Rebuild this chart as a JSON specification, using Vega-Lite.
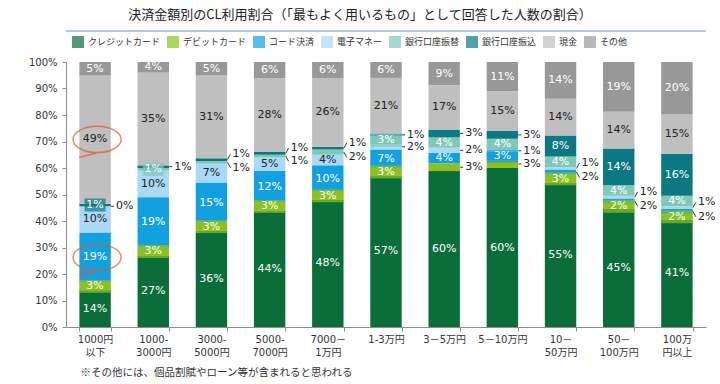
{
  "$schema": "https://vega.github.io/schema/vega-lite/v6.json",
  "width": 640,
  "height": 265,
  "autosize": {"type": "none"},
  "padding": {"left": 66, "top": 62, "right": 14, "bottom": 57},
  "background": "white",
  "title": {
    "text": "決済金額別のCL利用割合（「最もよく用いるもの」として回答した人数の割合）",
    "font": "Noto Sans CJK JP",
    "fontSize": 13,
    "fontWeight": "normal",
    "color": "#222222",
    "anchor": "middle",
    "dx": -26,
    "offset": 8
  },
  "config": {
    "view": {"stroke": null},
    "font": "DejaVu Sans, Noto Sans CJK JP",
    "axisY": {
      "tickCount": 10,
      "labelOverlap": false,
      "grid": false,
      "format": ".0%",
      "domainColor": "#8c8c8c",
      "tickColor": "#8c8c8c",
      "tickSize": 4,
      "labelFontSize": 10,
      "labelColor": "#333333",
      "labelPadding": 5
    }
  },
  "data": {
    "values": [
      {"cat": "1000円 以下", "method": "クレジットカード", "value": 14, "callout": false},
      {"cat": "1000円 以下", "method": "デビットカード", "value": 3, "callout": false},
      {"cat": "1000円 以下", "method": "コード決済", "value": 19, "callout": false},
      {"cat": "1000円 以下", "method": "電子マネー", "value": 10, "callout": false},
      {"cat": "1000円 以下", "method": "銀行口座振替", "value": 0, "callout": true},
      {"cat": "1000円 以下", "method": "銀行口座振込", "value": 1, "callout": false},
      {"cat": "1000円 以下", "method": "現金", "value": 49, "callout": false},
      {"cat": "1000円 以下", "method": "その他", "value": 5, "callout": false},

      {"cat": "1000- 3000円", "method": "クレジットカード", "value": 27, "callout": false},
      {"cat": "1000- 3000円", "method": "デビットカード", "value": 3, "callout": false},
      {"cat": "1000- 3000円", "method": "コード決済", "value": 19, "callout": false},
      {"cat": "1000- 3000円", "method": "電子マネー", "value": 10, "callout": false},
      {"cat": "1000- 3000円", "method": "銀行口座振替", "value": 1, "callout": false},
      {"cat": "1000- 3000円", "method": "銀行口座振込", "value": 1, "callout": true},
      {"cat": "1000- 3000円", "method": "現金", "value": 35, "callout": false},
      {"cat": "1000- 3000円", "method": "その他", "value": 4, "callout": false},

      {"cat": "3000- 5000円", "method": "クレジットカード", "value": 36, "callout": false},
      {"cat": "3000- 5000円", "method": "デビットカード", "value": 3, "callout": false},
      {"cat": "3000- 5000円", "method": "コード決済", "value": 15, "callout": false},
      {"cat": "3000- 5000円", "method": "電子マネー", "value": 7, "callout": false},
      {"cat": "3000- 5000円", "method": "銀行口座振替", "value": 1, "callout": true},
      {"cat": "3000- 5000円", "method": "銀行口座振込", "value": 1, "callout": true},
      {"cat": "3000- 5000円", "method": "現金", "value": 31, "callout": false},
      {"cat": "3000- 5000円", "method": "その他", "value": 5, "callout": false},

      {"cat": "5000- 7000円", "method": "クレジットカード", "value": 44, "callout": false},
      {"cat": "5000- 7000円", "method": "デビットカード", "value": 3, "callout": false},
      {"cat": "5000- 7000円", "method": "コード決済", "value": 12, "callout": false},
      {"cat": "5000- 7000円", "method": "電子マネー", "value": 5, "callout": false},
      {"cat": "5000- 7000円", "method": "銀行口座振替", "value": 1, "callout": true},
      {"cat": "5000- 7000円", "method": "銀行口座振込", "value": 1, "callout": true},
      {"cat": "5000- 7000円", "method": "現金", "value": 28, "callout": false},
      {"cat": "5000- 7000円", "method": "その他", "value": 6, "callout": false},

      {"cat": "7000－ 1万円", "method": "クレジットカード", "value": 48, "callout": false},
      {"cat": "7000－ 1万円", "method": "デビットカード", "value": 3, "callout": false},
      {"cat": "7000－ 1万円", "method": "コード決済", "value": 10, "callout": false},
      {"cat": "7000－ 1万円", "method": "電子マネー", "value": 4, "callout": false},
      {"cat": "7000－ 1万円", "method": "銀行口座振替", "value": 2, "callout": true},
      {"cat": "7000－ 1万円", "method": "銀行口座振込", "value": 1, "callout": true},
      {"cat": "7000－ 1万円", "method": "現金", "value": 26, "callout": false},
      {"cat": "7000－ 1万円", "method": "その他", "value": 6, "callout": false},

      {"cat": "1-3万円", "method": "クレジットカード", "value": 57, "callout": false},
      {"cat": "1-3万円", "method": "デビットカード", "value": 3, "callout": false},
      {"cat": "1-3万円", "method": "コード決済", "value": 7, "callout": false},
      {"cat": "1-3万円", "method": "電子マネー", "value": 2, "callout": true},
      {"cat": "1-3万円", "method": "銀行口座振替", "value": 3, "callout": false},
      {"cat": "1-3万円", "method": "銀行口座振込", "value": 1, "callout": true},
      {"cat": "1-3万円", "method": "現金", "value": 21, "callout": false},
      {"cat": "1-3万円", "method": "その他", "value": 6, "callout": false},

      {"cat": "3－5万円", "method": "クレジットカード", "value": 60, "callout": false},
      {"cat": "3－5万円", "method": "デビットカード", "value": 3, "callout": true},
      {"cat": "3－5万円", "method": "コード決済", "value": 4, "callout": false},
      {"cat": "3－5万円", "method": "電子マネー", "value": 2, "callout": true},
      {"cat": "3－5万円", "method": "銀行口座振替", "value": 4, "callout": false},
      {"cat": "3－5万円", "method": "銀行口座振込", "value": 3, "callout": true},
      {"cat": "3－5万円", "method": "現金", "value": 17, "callout": false},
      {"cat": "3－5万円", "method": "その他", "value": 9, "callout": false},

      {"cat": "5－10万円", "method": "クレジットカード", "value": 60, "callout": false},
      {"cat": "5－10万円", "method": "デビットカード", "value": 3, "callout": true},
      {"cat": "5－10万円", "method": "コード決済", "value": 3, "callout": false},
      {"cat": "5－10万円", "method": "電子マネー", "value": 1, "callout": true},
      {"cat": "5－10万円", "method": "銀行口座振替", "value": 4, "callout": false},
      {"cat": "5－10万円", "method": "銀行口座振込", "value": 3, "callout": true},
      {"cat": "5－10万円", "method": "現金", "value": 15, "callout": false},
      {"cat": "5－10万円", "method": "その他", "value": 11, "callout": false},

      {"cat": "10－ 50万円", "method": "クレジットカード", "value": 55, "callout": false},
      {"cat": "10－ 50万円", "method": "デビットカード", "value": 3, "callout": false},
      {"cat": "10－ 50万円", "method": "コード決済", "value": 2, "callout": true},
      {"cat": "10－ 50万円", "method": "電子マネー", "value": 1, "callout": true},
      {"cat": "10－ 50万円", "method": "銀行口座振替", "value": 4, "callout": false},
      {"cat": "10－ 50万円", "method": "銀行口座振込", "value": 8, "callout": false},
      {"cat": "10－ 50万円", "method": "現金", "value": 14, "callout": false},
      {"cat": "10－ 50万円", "method": "その他", "value": 14, "callout": false},

      {"cat": "50－ 100万円", "method": "クレジットカード", "value": 45, "callout": false},
      {"cat": "50－ 100万円", "method": "デビットカード", "value": 2, "callout": false},
      {"cat": "50－ 100万円", "method": "コード決済", "value": 2, "callout": true},
      {"cat": "50－ 100万円", "method": "電子マネー", "value": 1, "callout": true},
      {"cat": "50－ 100万円", "method": "銀行口座振替", "value": 4, "callout": false},
      {"cat": "50－ 100万円", "method": "銀行口座振込", "value": 14, "callout": false},
      {"cat": "50－ 100万円", "method": "現金", "value": 14, "callout": false},
      {"cat": "50－ 100万円", "method": "その他", "value": 19, "callout": false},

      {"cat": "100万 円以上", "method": "クレジットカード", "value": 41, "callout": false},
      {"cat": "100万 円以上", "method": "デビットカード", "value": 2, "callout": false},
      {"cat": "100万 円以上", "method": "コード決済", "value": 2, "callout": true},
      {"cat": "100万 円以上", "method": "電子マネー", "value": 1, "callout": true},
      {"cat": "100万 円以上", "method": "銀行口座振替", "value": 4, "callout": false},
      {"cat": "100万 円以上", "method": "銀行口座振込", "value": 16, "callout": false},
      {"cat": "100万 円以上", "method": "現金", "value": 15, "callout": false},
      {"cat": "100万 円以上", "method": "その他", "value": 20, "callout": false}
    ]
  },
  "transform": [
    {"calculate": "indexof(['クレジットカード','デビットカード','コード決済','電子マネー','銀行口座振替','銀行口座振込','現金','その他'], datum.method)", "as": "order"},
    {"stack": "value", "groupby": ["cat"], "sort": [{"field": "order", "order": "ascending"}], "offset": "normalize", "as": ["y0", "y1"]},
    {"calculate": "(datum.y0 + datum.y1) / 2", "as": "mid"},
    {"calculate": "datum.value + '%'", "as": "label"},
    {"window": [{"op": "lag", "field": "callout", "as": "below"}, {"op": "lead", "field": "callout", "as": "above"}], "groupby": ["cat"], "sort": [{"field": "order", "order": "ascending"}]},
    {"calculate": "datum.callout && datum.above ? datum.mid - 0.02 : (datum.callout && datum.below ? datum.mid + 0.02 : datum.mid)", "as": "ly"}
  ],
  "layer": [
    {
      "encoding": {
        "x": {
          "field": "cat",
          "type": "nominal",
          "sort": ["1000円 以下", "1000- 3000円", "3000- 5000円", "5000- 7000円", "7000－ 1万円", "1-3万円", "3－5万円", "5－10万円", "10－ 50万円", "50－ 100万円", "100万 円以上"],
          "scale": {"paddingInner": 0.46, "paddingOuter": 0.23},
          "axis": {
            "title": "※その他には、個品割賦やローン等が含まれると思われる",
            "labelAngle": 0,
            "labelExpr": "split(datum.label, ' ')",
            "tickBand": "extent",
            "domainColor": "#8c8c8c",
            "tickColor": "#8c8c8c",
            "tickSize": 4,
            "labelFontSize": 10,
            "labelColor": "#333333",
            "labelPadding": 3,
            "labelLineHeight": 13,
            "titleFont": "Noto Sans CJK JP",
            "titleFontSize": 10.5,
            "titleFontWeight": "normal",
            "titleColor": "#333333",
            "titleAlign": "left",
            "titleAnchor": "start",
            "titleBaseline": "middle",
            "titleX": 14,
            "titleY": 45
          }
        }
      },
      "layer": [
        {
          "mark": {"type": "bar"},
          "encoding": {
            "y": {
              "field": "y0",
              "type": "quantitative",
              "scale": {"domain": [0, 1]},
              "axis": {"title": null}
            },
            "y2": {"field": "y1"},
            "color": {
              "field": "method",
              "type": "nominal",
              "scale": {
                "domain": ["クレジットカード", "デビットカード", "コード決済", "電子マネー", "銀行口座振替", "銀行口座振込", "現金", "その他"],
                "range": ["#0b6e3a", "#8cc220", "#13a0e0", "#a9d9f6", "#7fc8b6", "#0c7882", "#bfbfbf", "#989898"]
              },
              "legend": {
                "title": null,
                "orient": "none",
                "legendX": 6,
                "legendY": -26,
                "direction": "horizontal",
                "symbolType": "square",
                "symbolSize": 144,
                "symbolStrokeWidth": 0,
                "labelFont": "Noto Sans CJK JP",
                "labelFontSize": 9,
                "labelColor": "#333333",
                "columnPadding": 6,
                "labelOffset": 4
              }
            }
          }
        },
        {
          "transform": [{"filter": "!datum.callout && datum.value <= 3"}],
          "mark": {"type": "tick", "orient": "horizontal", "thickness": 13},
          "encoding": {
            "y": {"field": "mid", "type": "quantitative"},
            "color": {"field": "method", "type": "nominal"},
            "size": {"condition": {"test": "datum.value <= 1", "value": 21}, "value": 31}
          }
        },
        {
          "transform": [{"filter": "datum.callout"}],
          "mark": {"type": "rule", "xOffset": 16, "x2Offset": 19, "color": "#333333", "strokeWidth": 1},
          "encoding": {
            "x2": {"field": "cat"},
            "y": {"field": "mid", "type": "quantitative"},
            "y2": {"field": "ly"}
          }
        },
        {
          "transform": [{"filter": "!datum.callout"}],
          "mark": {"type": "text", "fontSize": 11, "baseline": "middle", "align": "center"},
          "encoding": {
            "y": {"field": "mid", "type": "quantitative"},
            "text": {"field": "label"},
            "color": {"condition": {"test": "datum.method === '電子マネー' || datum.method === '現金'", "value": "#222222"}, "value": "#ffffff"}
          }
        },
        {
          "transform": [{"filter": "datum.callout"}],
          "mark": {"type": "text", "fontSize": 11, "baseline": "middle", "align": "left", "dx": 21, "color": "#222222"},
          "encoding": {
            "y": {"field": "ly", "type": "quantitative"},
            "text": {"field": "label"}
          }
        },
        {
          "transform": [{"filter": "datum.cat === '1000円 以下' && (datum.method === '現金' || datum.method === 'コード決済')"}],
          "mark": {
            "type": "point",
            "shape": "M-1,0A1,0.55 0 1,1 1,0A1,0.55 0 1,1 -1,0M0.05,0.55L-0.75,0.75",
            "size": 2304,
            "filled": false,
            "color": "#e8562a",
            "strokeWidth": 1.5,
            "xOffset": 2
          },
          "encoding": {
            "y": {"field": "mid", "type": "quantitative"}
          }
        }
      ]
    },
    {
      "transform": [{"filter": "datum.cat === '1000円 以下' && datum.method === 'その他'"}],
      "mark": {"type": "rule", "color": "#6d93c0", "strokeWidth": 1.2},
      "encoding": {
        "y": {"datum": 1.117}
      }
    }
  ]
}
